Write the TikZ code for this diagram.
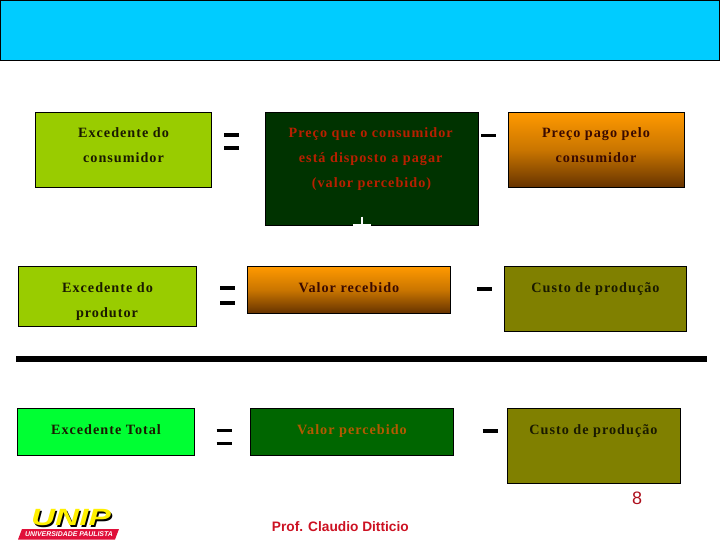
\documentclass[tikz,border=0pt]{standalone}
\usepackage{fontspec}
\setmainfont{Liberation Serif}
\setsansfont{Liberation Sans}
\newfontfamily\spacedfont[LetterSpace=7,BoldFont={Liberation Serif Bold}]{Liberation Serif}
\definecolor{skyb}{HTML}{00CCFF}
\definecolor{lime}{HTML}{99CC00}
\definecolor{dkgreen}{HTML}{003300}
\definecolor{midgreen}{HTML}{006600}
\definecolor{olive2}{HTML}{808000}
\definecolor{brightg}{HTML}{00FF33}
\definecolor{orangeT}{HTML}{FF9900}
\definecolor{brownB}{HTML}{663300}
\definecolor{txtd}{HTML}{1A1A00}
\definecolor{txtb}{HTML}{3A0A00}
\definecolor{txtr}{HTML}{B82000}
\definecolor{txto}{HTML}{B35A00}
\definecolor{profred}{HTML}{CC1122}
\definecolor{unipred}{HTML}{E0103A}
\definecolor{unipy}{HTML}{FFF000}
\tikzset{
 boxb/.style={draw=black,line width=0.8pt,inner sep=0pt,outer sep=0pt,anchor=north west},
 lab/.style={font=\spacedfont\bfseries\fontsize{14.2}{15}\selectfont,text=txtd,anchor=base,inner sep=0pt},
 sign/.style={line width=3.6pt,black},
 grad/.style={top color=orangeT,bottom color=brownB,middle color=orangeT!65!brownB}
}
\begin{document}
\begin{tikzpicture}[x=1pt,y=-1pt]
\useasboundingbox (0,0) rectangle (720,540);
\node[boxb,fill=skyb,minimum width=719pt,minimum height=60pt] (title) at (0.5,0.5) {};
% row 1
\node[boxb,fill=lime,minimum width=176.5pt,minimum height=75pt] (a1) at (35.2,112.3) {};
\node[boxb,fill=dkgreen,minimum width=213.7pt,minimum height=113pt] (b1) at (265,112.3) {};
\node[boxb,grad,minimum width=176pt,minimum height=75pt] (c1) at (508.3,112.3) {};
\node[lab] (a1t) at (123.5,137.5) {Excedente do};
\node[lab] (a1u) at (123.5,162.5) {consumidor};
\node[lab,text=txtr] (b1t) at (370.7,137.5) {Preço que o consumidor};
\node[lab,text=txtr] (b1u) at (370.7,162.5) {está disposto a pagar};
\node[lab,text=txtr] (b1v) at (371.5,188) {(valor percebido)};
\node[lab,text=txtb] (c1t) at (596,137.5) {Preço pago pelo};
\node[lab,text=txtb] (c1u) at (596,162.5) {consumidor};
% plus
\coordinate (p1) at (362,216.7); \coordinate (p2) at (362,225);
\coordinate (p3) at (353,225); \coordinate (p4) at (371,225);
\draw[white,line width=1.6pt] (p1) -- (p2);
\draw[white,line width=1.6pt] (p3) -- (p4);
% row 2
\node[boxb,fill=lime,minimum width=178.5pt,minimum height=59.5pt] (a2) at (18.3,266.7) {};
\node[boxb,grad,minimum width=203.4pt,minimum height=46.5pt] (b2) at (247.3,266.7) {};
\node[boxb,fill=olive2,minimum width=182.4pt,minimum height=64.6pt] (c2) at (504.3,266.7) {};
\node[lab] (a2t) at (107.5,292) {Excedente do};
\node[lab] (a2u) at (107,317) {produtor};
\node[lab,text=txtb] (b2t) at (349,292) {Valor recebido};
\node[lab] (c2t) at (595.5,292) {Custo de produção};
% rule
\fill[black] (16,356) rectangle (706.7,362);
% row 3
\node[boxb,fill=brightg,minimum width=177pt,minimum height=47pt] (a3) at (17,408.3) {};
\node[boxb,fill=midgreen,minimum width=203.7pt,minimum height=47pt] (b3) at (250,408.3) {};
\node[boxb,fill=olive2,minimum width=173.4pt,minimum height=75pt] (c3) at (507.3,408.3) {};
\node[lab] (a3t) at (106,434) {Excedente Total};
\node[lab,text=txto] (b3t) at (352,434) {Valor percebido};
\node[lab] (c3t) at (593.5,434) {Custo de produção};
% signs
\foreach \n/\x/\y/\d in {e1/231.5/141.5/6.5,e2/227.5/295.5/7.5,e3/224/437/6.5}{
 \coordinate (\n l) at (\x-7.5,\y); \coordinate (\n r) at (\x+7.5,\y);
 \draw[sign] ([yshift=\d pt]\n l) -- ([yshift=\d pt]\n r);
 \draw[sign] ([yshift=-\d pt]\n l) -- ([yshift=-\d pt]\n r);
}
\foreach \n/\x/\y in {m1/488.5/135.7,m2/484.5/289,m3/490/431}{
 \coordinate (\n l) at (\x-7.5,\y); \coordinate (\n r) at (\x+7.5,\y);
 \draw[sign] (\n l) -- (\n r);
}
% page and author
\node[font=\sffamily\fontsize{18}{18}\selectfont,text=profred!85!black] (pg) at (637,498) {8};
\node[font=\sffamily\bfseries\fontsize{13.7}{14}\selectfont,text=profred] (prof) at (340.3,527) {Prof. Claudio Ditticio};
% logo
\fill[unipred] (22,529) -- (119,529) -- (115,539.5) -- (18,539.5) -- cycle;
\node[font=\sffamily\bfseries\itshape\fontsize{6.9}{7}\selectfont,text=white] (logot) at (69,534.3) {UNIVERSIDADE PAULISTA};
\node[font=\sffamily\bfseries\itshape\fontsize{23.5}{24}\selectfont,text=black,xscale=1.42] (logos) at (72.5,519.5) {UNIP};
\node[font=\sffamily\bfseries\itshape\fontsize{23.5}{24}\selectfont,text=unipy,xscale=1.42] (logoy) at (71,518) {UNIP};
\end{tikzpicture}
\end{document}
